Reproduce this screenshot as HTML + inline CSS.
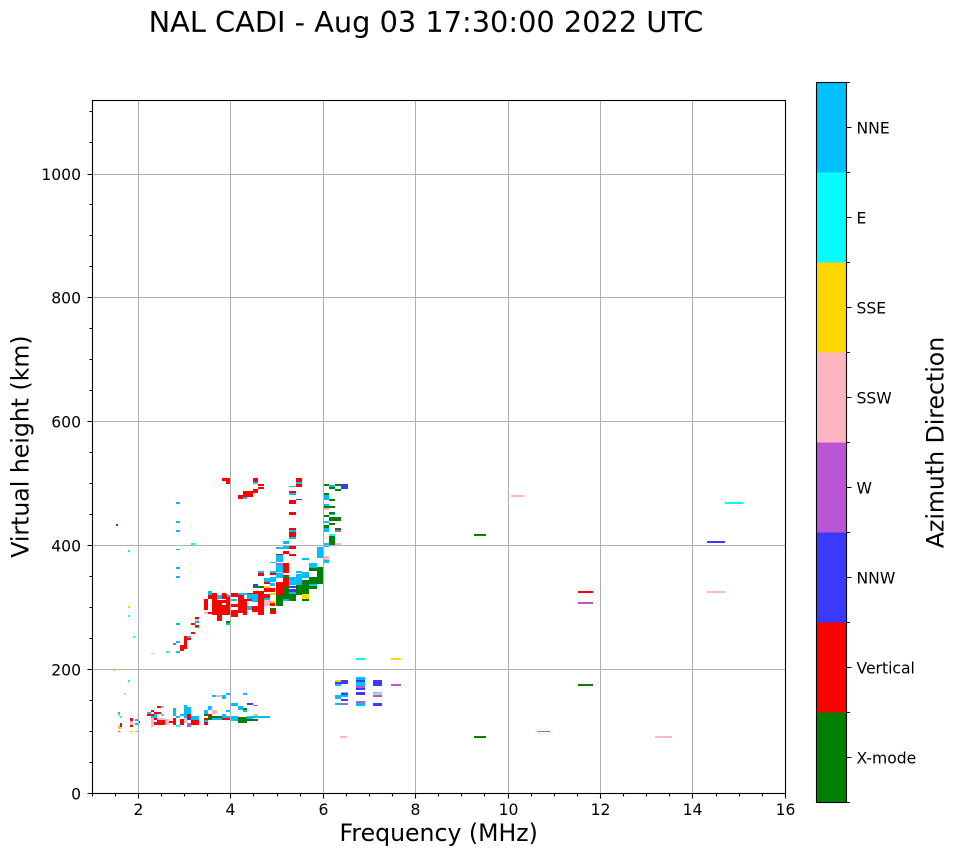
<!DOCTYPE html>
<html><head><meta charset="utf-8"><style>
html,body{margin:0;padding:0;background:#fff;}
svg{display:block;}
text{font-family:"DejaVu Sans","Liberation Sans",sans-serif;fill:#000;}
.G{fill:#008000}.R{fill:#ff0000}.B{fill:#3a3aff}.P{fill:#ba55d3}.K{fill:#ffb6c1}.Y{fill:#ffd700}.C{fill:#00ffff}.D{fill:#00bfff}
</style></head><body>
<svg width="958" height="857" viewBox="0 0 958 857" xmlns="http://www.w3.org/2000/svg">
<rect x="0" y="0" width="958" height="857" fill="#fff"/>
<text x="426" y="32" font-size="28.8" text-anchor="middle">NAL CADI - Aug 03 17:30:00 2022 UTC</text>

<!-- data -->
<g shape-rendering="crispEdges">
<!-- upper F -->
<rect class="R" x="222" y="478" width="8" height="3"/><rect class="R" x="226" y="481" width="4" height="3"/>
<rect class="R" x="253" y="478" width="5" height="4"/><rect class="D" x="253" y="482" width="5" height="2"/>
<rect class="R" x="258" y="484" width="6" height="2"/><rect class="R" x="258" y="487" width="6" height="2"/>
<rect class="R" x="253" y="489" width="5" height="4"/><rect class="R" x="250" y="492" width="3" height="5"/>
<rect class="R" x="243" y="491" width="10" height="6"/><rect class="R" x="238" y="495" width="5" height="4"/>
<rect class="D" x="243" y="497" width="4" height="2"/>
<rect class="R" x="296" y="478" width="6" height="4"/><rect class="D" x="296" y="482" width="6" height="2"/>
<rect class="R" x="296" y="484" width="6" height="3"/><rect class="D" x="289" y="486" width="7" height="1"/>
<rect class="R" x="289" y="491" width="7" height="2"/><rect class="D" x="289" y="493" width="7" height="2"/>
<rect class="R" x="289" y="500" width="7" height="4"/><rect class="B" x="296" y="499" width="6" height="1"/>
<rect class="R" x="289" y="512" width="7" height="3"/><rect class="R" x="289" y="528" width="7" height="2"/>
<rect class="D" x="289" y="530" width="7" height="2"/><rect class="R" x="289" y="532" width="7" height="5"/>
<rect class="D" x="289" y="537" width="7" height="2"/>
<rect class="G" x="324" y="484" width="5" height="2"/><rect class="D" x="329" y="485" width="6" height="2"/>
<rect class="G" x="335" y="484" width="6" height="2"/><rect class="B" x="341" y="484" width="7" height="5"/>
<rect class="G" x="329" y="487" width="6" height="2"/><rect class="G" x="335" y="489" width="6" height="2"/>
<rect class="G" x="324" y="493" width="5" height="2"/><rect class="D" x="324" y="495" width="5" height="5"/>
<rect class="G" x="329" y="499" width="6" height="2"/><rect class="D" x="324" y="504" width="5" height="2"/>
<rect class="G" x="324" y="506" width="11" height="2"/><rect class="K" x="324" y="508" width="5" height="2"/>
<rect class="G" x="329" y="512" width="6" height="2"/><rect class="D" x="329" y="514" width="6" height="1"/>
<rect class="G" x="324" y="515" width="5" height="2"/><rect class="G" x="329" y="517" width="12" height="4"/>
<rect class="D" x="324" y="521" width="5" height="2"/><rect class="G" x="329" y="523" width="6" height="2"/>
<rect class="G" x="324" y="525" width="5" height="3"/><rect class="D" x="324" y="528" width="5" height="4"/>
<rect class="G" x="335" y="528" width="6" height="2"/><rect class="P" x="335" y="530" width="6" height="2"/>
<rect class="C" x="329" y="534" width="6" height="2"/><rect class="G" x="329" y="536" width="6" height="9"/>
<rect class="K" x="335" y="543" width="6" height="2"/><rect class="D" x="324" y="543" width="5" height="4"/>
<rect class="C" x="191" y="543" width="4" height="2"/>
<!-- lower F -->
<rect class="D" x="317" y="547" width="6" height="11"/><rect class="K" x="324" y="556" width="5" height="4"/>
<rect class="D" x="324" y="560" width="5" height="3"/><rect class="D" x="283" y="541" width="6" height="3"/>
<rect class="D" x="283" y="546" width="6" height="3"/><rect class="D" x="276" y="547" width="7" height="2"/>
<rect class="R" x="283" y="551" width="6" height="3"/><rect class="R" x="289" y="546" width="7" height="3"/>
<rect class="R" x="276" y="554" width="7" height="2"/><rect class="D" x="276" y="556" width="7" height="6"/>
<rect class="R" x="289" y="554" width="7" height="2"/><rect class="D" x="302" y="558" width="7" height="2"/>
<rect class="D" x="309" y="563" width="8" height="6"/><rect class="G" x="309" y="569" width="8" height="2"/>
<rect class="G" x="317" y="567" width="6" height="15"/><rect class="R" x="270" y="562" width="6" height="1"/>
<rect class="P" x="276" y="563" width="7" height="2"/><rect class="D" x="276" y="565" width="7" height="6"/>
<rect class="K" x="276" y="571" width="7" height="2"/><rect class="R" x="283" y="563" width="6" height="10"/>
<rect class="D" x="276" y="573" width="7" height="5"/><rect class="R" x="283" y="575" width="6" height="1"/>
<rect class="G" x="283" y="576" width="6" height="2"/><rect class="D" x="258" y="571" width="6" height="2"/>
<rect class="R" x="258" y="573" width="6" height="3"/><rect class="D" x="270" y="571" width="6" height="2"/>
<rect class="R" x="270" y="573" width="6" height="2"/><rect class="D" x="264" y="578" width="6" height="4"/>
<rect class="B" x="270" y="578" width="6" height="2"/><rect class="D" x="270" y="580" width="6" height="2"/>
<rect class="D" x="289" y="578" width="13" height="6"/><rect class="D" x="296" y="571" width="6" height="2"/>
<rect class="D" x="296" y="574" width="6" height="3"/><rect class="D" x="302" y="572" width="7" height="6"/>
<rect class="R" x="283" y="578" width="6" height="15"/><rect class="G" x="302" y="580" width="15" height="9"/>
<rect class="B" x="253" y="584" width="5" height="2"/><rect class="R" x="264" y="582" width="6" height="2"/>
<rect class="R" x="264" y="586" width="6" height="2"/><rect class="R" x="276" y="583" width="7" height="14"/>
<rect class="B" x="289" y="586" width="7" height="2"/><rect class="B" x="289" y="589" width="7" height="2"/>
<rect class="G" x="296" y="584" width="13" height="11"/><rect class="R" x="253" y="591" width="11" height="6"/>
<rect class="D" x="289" y="591" width="7" height="4"/><rect class="G" x="289" y="595" width="7" height="6"/>
<rect class="K" x="302" y="593" width="7" height="2"/><rect class="Y" x="302" y="595" width="7" height="4"/>
<rect class="G" x="302" y="599" width="7" height="2"/><rect class="G" x="276" y="597" width="7" height="9"/>
<rect class="R" x="222" y="593" width="4" height="2"/><rect class="R" x="222" y="597" width="8" height="2"/>
<rect class="R" x="226" y="599" width="4" height="16"/><rect class="D" x="226" y="595" width="4" height="2"/>
<rect class="D" x="231" y="599" width="6" height="2"/><rect class="R" x="231" y="593" width="6" height="4"/>
<rect class="R" x="231" y="604" width="7" height="3"/><rect class="R" x="231" y="612" width="7" height="5"/>
<rect class="D" x="238" y="595" width="4" height="4"/><rect class="R" x="238" y="599" width="4" height="10"/>
<rect class="B" x="238" y="602" width="4" height="2"/><rect class="D" x="242" y="593" width="5" height="2"/>
<rect class="R" x="243" y="599" width="4" height="16"/><rect class="D" x="247" y="606" width="6" height="4"/>
<rect class="R" x="247" y="593" width="6" height="4"/><rect class="R" x="247" y="597" width="6" height="3"/>
<rect class="D" x="253" y="595" width="5" height="6"/><rect class="R" x="258" y="601" width="6" height="14"/>
<rect class="K" x="264" y="602" width="6" height="4"/><rect class="R" x="264" y="599" width="6" height="3"/>
<rect class="Y" x="270" y="602" width="6" height="2"/><rect class="G" x="270" y="608" width="6" height="2"/>
<rect class="R" x="270" y="610" width="6" height="4"/><rect class="D" x="208" y="591" width="4" height="4"/>
<rect class="R" x="208" y="595" width="4" height="4"/><rect class="R" x="204" y="599" width="4" height="7"/>
<rect class="K" x="204" y="612" width="4" height="2"/><rect class="R" x="208" y="612" width="4" height="2"/>
<rect class="R" x="212" y="597" width="5" height="18"/><rect class="R" x="217" y="606" width="5" height="15"/>
<rect class="G" x="226" y="621" width="4" height="2"/><rect class="D" x="226" y="623" width="4" height="2"/>
<rect class="R" x="231" y="615" width="7" height="2"/>
<!-- refined dense F trace -->
<rect class="R" x="212" y="593" width="5" height="22"/><rect class="R" x="204" y="599" width="4" height="11"/>
<rect class="D" x="208" y="591" width="4" height="4"/><rect class="R" x="208" y="595" width="4" height="4"/>
<rect class="R" x="217" y="600" width="5" height="21"/><rect class="D" x="217" y="595" width="5" height="4"/>
<rect class="R" x="222" y="594" width="5" height="3"/><rect class="R" x="222" y="600" width="8" height="3"/>
<rect class="R" x="222" y="605" width="8" height="10"/><rect class="R" x="231" y="593" width="7" height="4"/>
<rect class="R" x="231" y="610" width="7" height="6"/><rect class="R" x="238" y="595" width="6" height="18"/>
<rect class="D" x="238" y="593" width="4" height="2"/><rect class="D" x="247" y="594" width="5" height="5"/>
<rect class="R" x="247" y="599" width="5" height="2"/><rect class="D" x="252" y="594" width="6" height="8"/>
<rect class="R" x="252" y="606" width="6" height="6"/><rect class="R" x="258" y="594" width="6" height="21"/>
<rect class="B" x="253" y="584" width="5" height="2"/><rect class="G" x="253" y="586" width="11" height="2"/>
<rect class="Y" x="264" y="586" width="6" height="2"/><rect class="R" x="264" y="588" width="11" height="4"/>
<rect class="D" x="269" y="580" width="6" height="2"/><rect class="D" x="270" y="583" width="5" height="3"/>
<rect class="R" x="264" y="594" width="6" height="4"/><rect class="D" x="264" y="598" width="6" height="2"/>
<rect class="K" x="264" y="600" width="6" height="4"/><rect class="Y" x="270" y="601" width="5" height="2"/>
<rect class="R" x="270" y="603" width="5" height="3"/><rect class="G" x="270" y="608" width="5" height="2"/>
<rect class="R" x="270" y="610" width="5" height="3"/>
<rect class="D" x="276" y="555" width="7" height="7"/><rect class="D" x="270" y="562" width="6" height="1"/>
<rect class="P" x="276" y="563" width="7" height="2"/><rect class="D" x="276" y="565" width="7" height="7"/>
<rect class="R" x="283" y="565" width="6" height="8"/><rect class="D" x="309" y="563" width="8" height="5"/>
<rect class="G" x="309" y="568" width="8" height="2"/><rect class="G" x="317" y="567" width="6" height="17"/>
<rect class="K" x="323" y="556" width="6" height="4"/><rect class="D" x="323" y="560" width="6" height="3"/>
<rect class="D" x="264" y="578" width="6" height="4"/><rect class="D" x="270" y="577" width="6" height="5"/>
<rect class="R" x="276" y="582" width="7" height="7"/><rect class="R" x="283" y="581" width="6" height="6"/>
<rect class="D" x="289" y="577" width="13" height="8"/><rect class="B" x="289" y="586" width="7" height="2"/>
<rect class="B" x="289" y="590" width="7" height="2"/><rect class="D" x="289" y="592" width="7" height="2"/>
<rect class="G" x="302" y="582" width="7" height="12"/><rect class="G" x="309" y="577" width="8" height="7"/>
<rect class="D" x="309" y="584" width="8" height="2"/><rect class="G" x="283" y="587" width="6" height="7"/>
<rect class="G" x="276" y="595" width="7" height="10"/><rect class="Y" x="270" y="593" width="6" height="2"/>
<rect class="G" x="283" y="594" width="13" height="6"/><rect class="D" x="283" y="599" width="6" height="2"/>
<rect class="Y" x="302" y="594" width="7" height="5"/><rect class="G" x="302" y="599" width="7" height="2"/>
<rect class="D" x="190" y="636" width="1" height="4"/>
<rect class="R" x="195" y="617" width="4" height="2"/><rect class="K" x="195" y="619" width="4" height="2"/>
<rect class="D" x="195" y="621" width="4" height="2"/><rect class="R" x="195" y="625" width="4" height="2"/>
<rect class="D" x="195" y="627" width="4" height="1"/><rect class="R" x="191" y="623" width="4" height="2"/>
<rect class="R" x="191" y="632" width="4" height="2"/><rect class="R" x="184" y="636" width="3" height="2"/>
<rect class="D" x="187" y="636" width="4" height="4"/><rect class="R" x="187" y="638" width="4" height="2"/>
<rect class="R" x="184" y="638" width="3" height="11"/><rect class="R" x="180" y="645" width="4" height="6"/>
<rect class="P" x="173" y="643" width="3" height="2"/><rect class="D" x="176" y="641" width="4" height="2"/>
<rect class="C" x="166" y="651" width="3" height="2"/><rect class="D" x="176" y="651" width="4" height="2"/>
<rect class="K" x="151" y="653" width="3" height="1"/>
<!-- sparse left -->
<rect class="D" x="176" y="502" width="4" height="2"/><rect class="B" x="116" y="524" width="2" height="2"/>
<rect class="D" x="176" y="521" width="4" height="2"/><rect class="D" x="176" y="530" width="4" height="2"/>
<rect class="C" x="128" y="550" width="2" height="2"/><rect class="D" x="176" y="549" width="4" height="1"/>
<rect class="D" x="176" y="567" width="4" height="2"/><rect class="D" x="176" y="576" width="4" height="2"/>
<rect class="Y" x="128" y="606" width="2" height="2"/><rect class="C" x="128" y="615" width="2" height="2"/>
<rect class="D" x="176" y="623" width="4" height="2"/><rect class="C" x="133" y="636" width="2" height="2"/>
<!-- E region -->
<rect class="C" x="128" y="680" width="2" height="2"/><rect class="Y" x="113" y="669" width="2" height="2"/>
<rect class="K" x="124" y="693" width="2" height="2"/><rect class="D" x="118" y="712" width="2" height="2"/>
<rect class="Y" x="118" y="714" width="2" height="2"/><rect class="C" x="120" y="716" width="2" height="2"/>
<rect class="R" x="130" y="718" width="3" height="3"/><rect class="K" x="130" y="721" width="3" height="4"/>
<rect class="R" x="130" y="725" width="3" height="2"/><rect class="D" x="135" y="719" width="4" height="2"/>
<rect class="R" x="138" y="721" width="2" height="2"/><rect class="D" x="135" y="723" width="4" height="2"/>
<rect class="B" x="120" y="723" width="2" height="2"/><rect class="R" x="120" y="725" width="2" height="2"/>
<rect class="Y" x="118" y="725" width="2" height="4"/><rect class="K" x="120" y="727" width="2" height="2"/>
<rect class="P" x="118" y="731" width="2" height="1"/><rect class="K" x="120" y="731" width="2" height="1"/>
<rect class="Y" x="130" y="731" width="3" height="1"/><rect class="C" x="135" y="731" width="3" height="1"/>
<rect class="R" x="157" y="706" width="4" height="2"/><rect class="C" x="161" y="706" width="3" height="2"/>
<rect class="R" x="151" y="710" width="3" height="2"/><rect class="D" x="147" y="712" width="4" height="2"/>
<rect class="R" x="147" y="714" width="7" height="2"/><rect class="R" x="154" y="712" width="7" height="2"/>
<rect class="D" x="154" y="714" width="3" height="4"/><rect class="C" x="161" y="714" width="3" height="2"/>
<rect class="D" x="151" y="716" width="3" height="2"/>
<rect class="K" x="151" y="718" width="3" height="9"/><rect class="R" x="154" y="718" width="3" height="2"/>
<rect class="R" x="157" y="720" width="8" height="5"/><rect class="K" x="157" y="718" width="4" height="2"/>
<rect class="R" x="154" y="722" width="7" height="3"/><rect class="K" x="165" y="719" width="4" height="6"/>
<rect class="K" x="161" y="718" width="4" height="2"/><rect class="D" x="173" y="708" width="3" height="8"/>
<rect class="R" x="173" y="718" width="3" height="7"/><rect class="D" x="176" y="716" width="4" height="2"/>
<rect class="C" x="176" y="725" width="4" height="2"/><rect class="R" x="169" y="721" width="4" height="2"/>
<rect class="D" x="180" y="714" width="4" height="2"/><rect class="R" x="180" y="719" width="4" height="6"/>
<rect class="D" x="184" y="705" width="3" height="7"/><rect class="D" x="187" y="707" width="4" height="5"/>
<rect class="D" x="184" y="712" width="7" height="2"/><rect class="D" x="184" y="714" width="3" height="4"/>
<rect class="R" x="187" y="714" width="4" height="4"/><rect class="B" x="187" y="718" width="8" height="2"/>
<rect class="D" x="191" y="716" width="8" height="4"/><rect class="R" x="191" y="720" width="8" height="5"/>
<rect class="P" x="187" y="723" width="4" height="4"/><rect class="K" x="184" y="718" width="3" height="5"/>
<rect class="D" x="204" y="710" width="4" height="4"/><rect class="G" x="204" y="714" width="4" height="2"/>
<rect class="R" x="204" y="718" width="4" height="2"/><rect class="D" x="204" y="720" width="4" height="2"/>
<rect class="R" x="204" y="722" width="4" height="3"/><rect class="D" x="208" y="706" width="4" height="4"/>
<rect class="R" x="208" y="714" width="4" height="2"/><rect class="K" x="212" y="710" width="5" height="4"/>
<rect class="G" x="208" y="716" width="14" height="4"/><rect class="D" x="212" y="718" width="10" height="2"/>
<rect class="D" x="222" y="714" width="4" height="4"/><rect class="D" x="226" y="710" width="4" height="2"/>
<rect class="R" x="222" y="718" width="8" height="2"/><rect class="D" x="226" y="716" width="4" height="2"/>
<rect class="D" x="212" y="695" width="4" height="2"/><rect class="K" x="216" y="695" width="6" height="2"/>
<rect class="D" x="222" y="695" width="4" height="4"/><rect class="D" x="226" y="693" width="4" height="2"/>
<rect class="D" x="231" y="703" width="7" height="3"/><rect class="D" x="238" y="706" width="5" height="4"/>
<rect class="G" x="243" y="708" width="4" height="2"/><rect class="D" x="243" y="710" width="4" height="2"/>
<rect class="B" x="247" y="703" width="6" height="2"/><rect class="P" x="253" y="705" width="5" height="1"/>
<rect class="D" x="243" y="693" width="4" height="2"/><rect class="D" x="231" y="716" width="7" height="5"/>
<rect class="G" x="238" y="717" width="9" height="6"/><rect class="G" x="247" y="719" width="11" height="2"/>
<rect class="D" x="247" y="716" width="6" height="3"/><rect class="K" x="253" y="714" width="5" height="2"/>
<rect class="D" x="253" y="716" width="17" height="2"/>
<!-- 6-8 MHz -->
<rect class="C" x="356" y="658" width="9" height="2"/><rect class="Y" x="391" y="658" width="10" height="2"/>
<rect class="Y" x="335" y="680" width="6" height="2"/><rect class="B" x="341" y="680" width="7" height="4"/>
<rect class="B" x="335" y="682" width="6" height="2"/><rect class="D" x="335" y="684" width="6" height="2"/>
<rect class="C" x="341" y="692" width="7" height="2"/><rect class="B" x="341" y="693" width="7" height="2"/>
<rect class="D" x="335" y="695" width="6" height="4"/><rect class="D" x="341" y="695" width="7" height="2"/>
<rect class="B" x="341" y="699" width="7" height="2"/><rect class="D" x="335" y="703" width="6" height="2"/>
<rect class="P" x="341" y="703" width="7" height="2"/>
<rect class="D" x="356" y="677" width="9" height="3"/><rect class="B" x="356" y="680" width="9" height="2"/>
<rect class="D" x="356" y="682" width="9" height="4"/><rect class="P" x="356" y="686" width="9" height="2"/>
<rect class="B" x="356" y="688" width="9" height="2"/><rect class="B" x="356" y="692" width="9" height="3"/>
<rect class="P" x="356" y="701" width="9" height="2"/><rect class="D" x="356" y="703" width="9" height="3"/>
<rect class="B" x="373" y="680" width="9" height="6"/><rect class="C" x="373" y="692" width="9" height="1"/>
<rect class="K" x="373" y="693" width="9" height="2"/><rect class="P" x="373" y="695" width="9" height="2"/>
<rect class="B" x="373" y="703" width="9" height="3"/><rect class="P" x="391" y="684" width="10" height="2"/>
<rect class="K" x="340" y="736" width="7" height="2"/>
<!-- far -->
<rect class="K" x="511" y="495" width="13" height="2"/><rect class="G" x="474" y="534" width="12" height="2"/>
<rect class="C" x="725" y="502" width="18" height="2"/><rect class="B" x="707" y="541" width="18" height="2"/>
<rect class="R" x="578" y="591" width="15" height="2"/><rect class="P" x="578" y="602" width="15" height="2"/>
<rect class="K" x="707" y="591" width="18" height="2"/><rect class="G" x="578" y="684" width="15" height="2"/>
<rect class="P" x="537" y="731" width="13" height="1"/><rect class="G" x="474" y="736" width="12" height="2"/>
<rect class="K" x="655" y="736" width="17" height="2"/>
</g>

<!-- grid -->
<g stroke="#b0b0b0" stroke-width="1" fill="none" shape-rendering="crispEdges">
<path d="M138.5 100V793 M230.5 100V793 M323.5 100V793 M415.5 100V793 M508.5 100V793 M600.5 100V793 M692.5 100V793"/>
<path d="M92 669.5H785 M92 545.5H785 M92 421.5H785 M92 297.5H785 M92 174.5H785"/>
</g>

<!-- spines -->
<rect x="92.5" y="100.5" width="693" height="693" fill="none" stroke="#000" stroke-width="1.1"/>

<!-- ticks -->
<g stroke="#000" stroke-width="1.1" fill="none">
<path d="M138.5 793.5v5 M230.5 793.5v5 M323.5 793.5v5 M415.5 793.5v5 M508.5 793.5v5 M600.5 793.5v5 M692.5 793.5v5 M785.5 793.5v5"/>
<path d="M92.5 793.5v3 M115.5 793.5v3 M161.5 793.5v3 M184.5 793.5v3 M207.5 793.5v3 M253.5 793.5v3 M277.5 793.5v3 M300.5 793.5v3 M346.5 793.5v3 M369.5 793.5v3 M392.5 793.5v3 M438.5 793.5v3 M461.5 793.5v3 M484.5 793.5v3 M531.5 793.5v3 M554.5 793.5v3 M577.5 793.5v3 M623.5 793.5v3 M646.5 793.5v3 M669.5 793.5v3 M716.5 793.5v3 M739.5 793.5v3 M762.5 793.5v3"/>
<path d="M92.5 793.5h-5 M92.5 669.5h-5 M92.5 545.5h-5 M92.5 421.5h-5 M92.5 297.5h-5 M92.5 174.5h-5"/>
<path d="M92.5 762.5h-3 M92.5 731.5h-3 M92.5 700.5h-3 M92.5 638.5h-3 M92.5 607.5h-3 M92.5 576.5h-3 M92.5 514.5h-3 M92.5 483.5h-3 M92.5 452.5h-3 M92.5 390.5h-3 M92.5 359.5h-3 M92.5 328.5h-3 M92.5 266.5h-3 M92.5 235.5h-3 M92.5 204.5h-3 M92.5 142.5h-3 M92.5 111.5h-3"/>
</g>

<g font-size="15.6" text-anchor="middle">
<text x="138.5" y="815">2</text><text x="230.5" y="815">4</text><text x="323.5" y="815">6</text><text x="415.5" y="815">8</text>
<text x="508.5" y="815">10</text><text x="600.5" y="815">12</text><text x="692.5" y="815">14</text><text x="785.5" y="815">16</text>
</g>
<g font-size="15.6" text-anchor="end">
<text x="81" y="799.3">0</text><text x="81" y="675.3">200</text><text x="81" y="551.3">400</text>
<text x="81" y="427.3">600</text><text x="81" y="303.3">800</text><text x="81" y="180">1000</text>
</g>
<text x="438.7" y="841" font-size="23.6" text-anchor="middle">Frequency (MHz)</text>
<text transform="translate(28.5,446.6) rotate(-90)" font-size="23.6" text-anchor="middle">Virtual height (km)</text>

<!-- colorbar -->
<g shape-rendering="crispEdges">
<rect x="816.5" y="82.5" width="30" height="90" fill="#00bfff"/>
<rect x="816.5" y="172.5" width="30" height="90" fill="#00ffff"/>
<rect x="816.5" y="262.5" width="30" height="90" fill="#ffd700"/>
<rect x="816.5" y="352.5" width="30" height="90" fill="#ffb6c1"/>
<rect x="816.5" y="442.5" width="30" height="90" fill="#ba55d3"/>
<rect x="816.5" y="532.5" width="30" height="90" fill="#3a3aff"/>
<rect x="816.5" y="622.5" width="30" height="90" fill="#ff0000"/>
<rect x="816.5" y="712.5" width="30" height="90" fill="#008000"/>
</g>
<rect x="816.5" y="82.5" width="30" height="720" fill="none" stroke="#000" stroke-width="1.1"/>
<g stroke="#000" stroke-width="1.1">
<path d="M846.5 127.5h5 M846.5 217.5h5 M846.5 307.5h5 M846.5 397.5h5 M846.5 487.5h5 M846.5 577.5h5 M846.5 667.5h5 M846.5 757.5h5"/>
<path d="M846.5 82.5h3.5 M846.5 172.5h3.5 M846.5 262.5h3.5 M846.5 352.5h3.5 M846.5 442.5h3.5 M846.5 532.5h3.5 M846.5 622.5h3.5 M846.5 712.5h3.5 M846.5 802.5h3.5"/>
</g>
<g font-size="15.6">
<text x="856.5" y="133.3">NNE</text><text x="856.5" y="223.3">E</text><text x="856.5" y="313.3">SSE</text>
<text x="856.5" y="403.3">SSW</text><text x="856.5" y="493.3">W</text><text x="856.5" y="583.3">NNW</text>
<text x="856.5" y="673.3">Vertical</text><text x="856.5" y="763.3">X-mode</text>
</g>
<text transform="translate(943.5,442.5) rotate(-90)" font-size="23.6" text-anchor="middle">Azimuth Direction</text>
</svg>
</body></html>
